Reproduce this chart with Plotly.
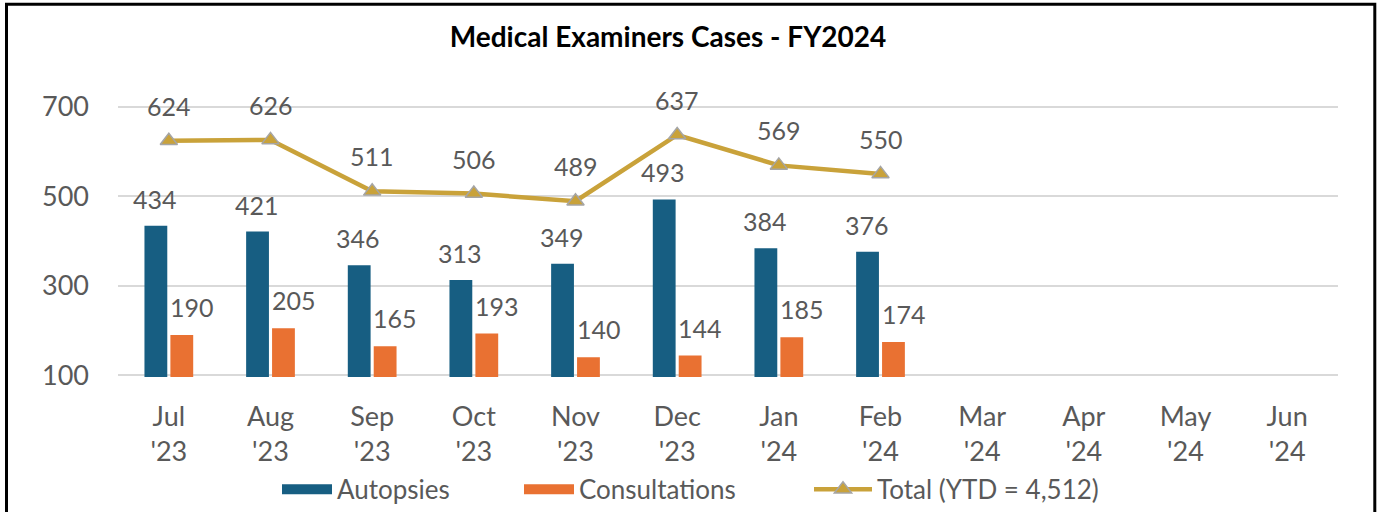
import plotly.graph_objects as go

categories = ["Jul<br>'23", "Aug<br>'23", "Sep<br>'23", "Oct<br>'23", "Nov<br>'23", "Dec<br>'23",
              "Jan<br>'24", "Feb<br>'24", "Mar<br>'24", "Apr<br>'24", "May<br>'24", "Jun<br>'24"]
autopsies = [434, 421, 346, 313, 349, 493, 384, 376]
consultations = [190, 205, 165, 193, 140, 144, 185, 174]
totals = [624, 626, 511, 506, 489, 637, 569, 550]
y_ticks = [100, 300, 500, 700]

FONT = "Lato"
GREY = "#595959"
BLUE = "#175E82"
ORANGE = "#E97132"
GOLD = "#C9A23A"

W, H = 1378, 512
L, R = 118, 40
T, B = 105.2, 135.2
pw, ph = W - L - R, H - T - B


def px_x(x):
    return (x - L) / pw


def px_y(y):
    return (H - B - y) / ph


fig = go.Figure()
fig.add_trace(go.Bar(x=categories[:len(autopsies)], y=autopsies, name="Autopsies",
                     marker=dict(color=BLUE, line=dict(width=0)), showlegend=False))
fig.add_trace(go.Bar(x=categories[:len(consultations)], y=consultations, name="Consultations",
                     marker=dict(color=ORANGE, line=dict(width=0)), showlegend=False))
fig.add_trace(go.Scatter(x=categories[:len(totals)], y=totals, name="Total (YTD = 4,512)",
                         mode="lines+markers", legend="legend3",
                         line=dict(color=GOLD, width=4.5),
                         marker=dict(symbol="triangle-up", size=15, color=GOLD,
                                     line=dict(color="#A5A5A5", width=1.5))))
# legend keys for the bar series (wide swatches, as in the original)
fig.add_trace(go.Scatter(x=[None], y=[None], mode="lines", name="Autopsies", legend="legend",
                         line=dict(color=BLUE, width=20), hoverinfo="skip"))
fig.add_trace(go.Scatter(x=[None], y=[None], mode="lines", name="Consultations", legend="legend2",
                         line=dict(color=ORANGE, width=20), hoverinfo="skip"))

ann = []
for c, v in zip(categories, autopsies):
    ann.append(dict(x=c, y=v, text=str(v), showarrow=False, xshift=-14, yshift=27,
                    font=dict(family=FONT, size=25, color=GREY)))
for c, v in zip(categories, consultations):
    ann.append(dict(x=c, y=v, text=str(v), showarrow=False, xshift=23, yshift=28,
                    font=dict(family=FONT, size=25, color=GREY)))
for c, v in zip(categories, totals):
    ann.append(dict(x=c, y=v, text=str(v), showarrow=False, xshift=0, yshift=35,
                    font=dict(family=FONT, size=25, color=GREY)))

legend_common = dict(orientation="h", xanchor="left", yanchor="middle", y=px_y(489),
                     font=dict(family=FONT, size=26, color=GREY), bgcolor="rgba(0,0,0,0)")

fig.update_layout(
    width=W, height=H,
    margin=dict(l=L, r=R, t=T, b=B, autoexpand=False),
    paper_bgcolor="white", plot_bgcolor="white",
    barmode="group", bargap=0.49, bargroupgap=0.12,
    title=dict(text="<b>Medical Examiners Cases - FY2024</b>", x=668 / W, xanchor="center",
               y=1 - 37 / H, yanchor="middle", xref="container", yref="container",
               font=dict(family=FONT, size=28, color="black")),
    font=dict(family=FONT, size=26, color=GREY),
    xaxis=dict(type="category", categoryorder="array", categoryarray=categories,
               range=[-0.5, len(categories) - 0.5],
               showgrid=False, showline=False, ticks="", zeroline=False,
               tickfont=dict(family=FONT, size=27, color=GREY), ticklabelstandoff=21),
    yaxis=dict(range=[96, 704], tickvals=y_ticks, showgrid=True, gridcolor="#D9D9D9",
               gridwidth=2, zeroline=False, showline=False, ticks="",
               tickfont=dict(family=FONT, size=27, color=GREY), ticklabelstandoff=28),
    legend=dict(legend_common, x=px_x(277), itemwidth=50),
    legend2=dict(legend_common, x=px_x(519), itemwidth=50),
    legend3=dict(legend_common, x=px_x(809), itemwidth=58),
    annotations=ann,
    shapes=[dict(type="rect", xref="paper", yref="paper",
                 x0=px_x(6.5), x1=px_x(1374.8), y0=px_y(530), y1=px_y(4.5),
                 line=dict(color="black", width=3), fillcolor="rgba(0,0,0,0)", layer="above")],
    showlegend=True,
)

fig.write_html("out.html", config={"displayModeBar": False},
               post_script="document.body.style.margin='0';document.body.style.overflow='hidden';")
